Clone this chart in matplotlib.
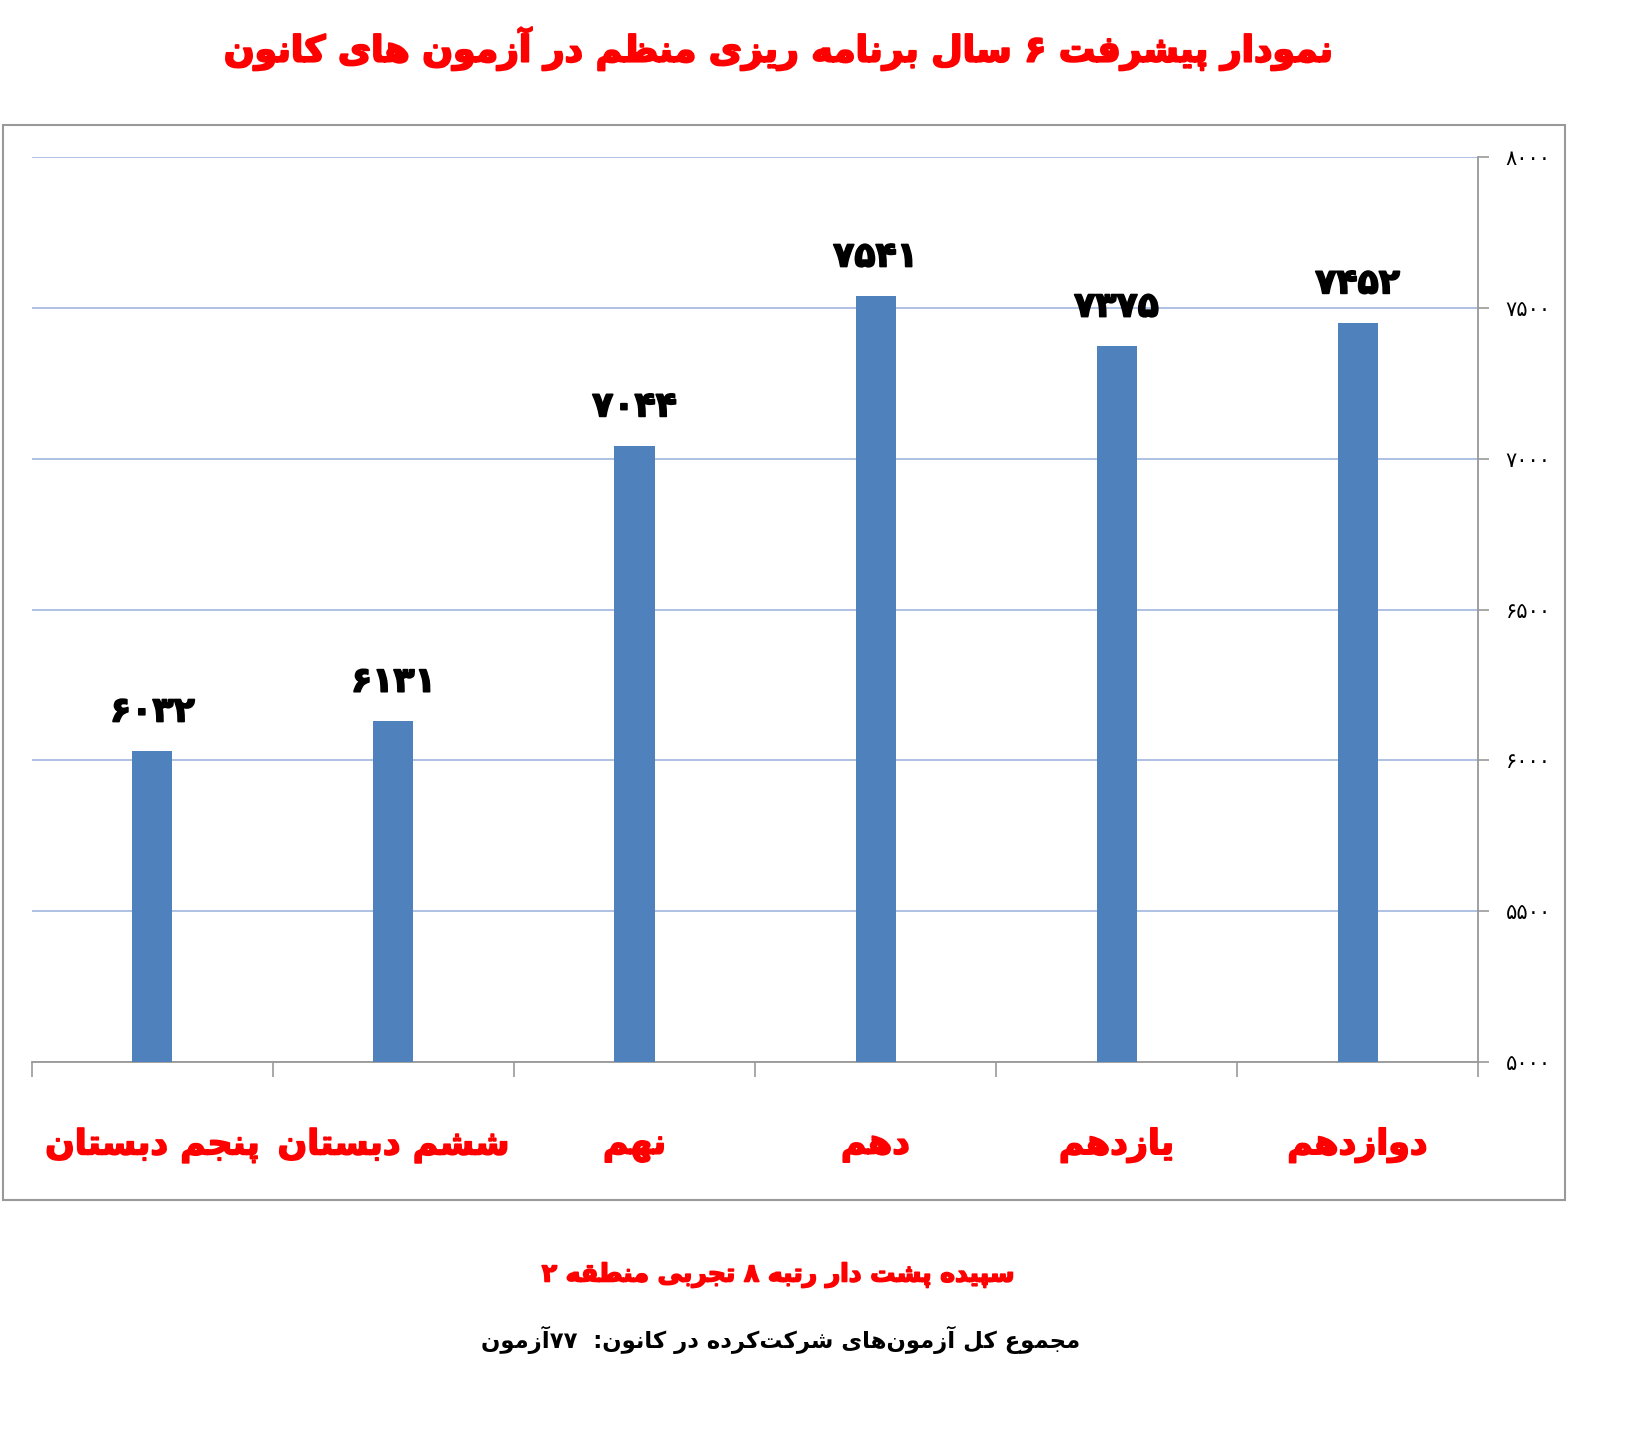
import re

import matplotlib

matplotlib.use("Agg")
import matplotlib.patheffects as pe
import matplotlib.pyplot as plt
from matplotlib.patches import Rectangle
from matplotlib.ticker import FixedLocator, FuncFormatter

# data
grades = ["پنجم دبستان", "ششم دبستان", "نهم", "دهم", "یازدهم", "دوازدهم"]
scores = [6032, 6131, 7044, 7541, 7375, 7452]
y_ticks = [5000, 5500, 6000, 6500, 7000, 7500, 8000]

title = "نمودار پیشرفت ۶ سال برنامه ریزی منظم در آزمون های کانون"
subtitle = "سپیده پشت دار رتبه ۸ تجربی منطقه ۲"
footer = "مجموع کل آزمون\u200cهای شرکت\u200cکرده در کانون:  ۷۷آزمون"

# matplotlib has no arabic shaping, so pick presentation forms by hand
# dual joining: (isolated, final, initial, medial); right joining: (isolated, final)
FORMS = {
    "\u0627": ("\uFE8D", "\uFE8E"),
    "\u0622": ("\uFE81", "\uFE82"),
    "\u062F": ("\uFEA9", "\uFEAA"),
    "\u0631": ("\uFEAD", "\uFEAE"),
    "\u0632": ("\uFEAF", "\uFEB0"),
    "\u0648": ("\uFEED", "\uFEEE"),
    "\u0628": ("\uFE8F", "\uFE90", "\uFE91", "\uFE92"),
    "\u067E": ("\uFB56", "\uFB57", "\uFB58", "\uFB59"),
    "\u062A": ("\uFE95", "\uFE96", "\uFE97", "\uFE98"),
    "\u062C": ("\uFE9D", "\uFE9E", "\uFE9F", "\uFEA0"),
    "\u0686": ("\uFB7A", "\uFB7B", "\uFB7C", "\uFB7D"),
    "\u062D": ("\uFEA1", "\uFEA2", "\uFEA3", "\uFEA4"),
    "\u0633": ("\uFEB1", "\uFEB2", "\uFEB3", "\uFEB4"),
    "\u0634": ("\uFEB5", "\uFEB6", "\uFEB7", "\uFEB8"),
    "\u0637": ("\uFEC1", "\uFEC2", "\uFEC3", "\uFEC4"),
    "\u0638": ("\uFEC5", "\uFEC6", "\uFEC7", "\uFEC8"),
    "\u0639": ("\uFEC9", "\uFECA", "\uFECB", "\uFECC"),
    "\u0641": ("\uFED1", "\uFED2", "\uFED3", "\uFED4"),
    "\u0642": ("\uFED5", "\uFED6", "\uFED7", "\uFED8"),
    "\u06A9": ("\uFB8E", "\uFB8F", "\uFB90", "\uFB91"),
    "\u06AF": ("\uFB92", "\uFB93", "\uFB94", "\uFB95"),
    "\u0644": ("\uFEDD", "\uFEDE", "\uFEDF", "\uFEE0"),
    "\u0645": ("\uFEE1", "\uFEE2", "\uFEE3", "\uFEE4"),
    "\u0646": ("\uFEE5", "\uFEE6", "\uFEE7", "\uFEE8"),
    "\u0647": ("\uFEE9", "\uFEEA", "\uFEEB", "\uFEEC"),
    "\u06CC": ("\uFBFC", "\uFBFD", "\uFBFE", "\uFBFF"),
}
FA_DIGITS = str.maketrans("0123456789", "۰۱۲۳۴۵۶۷۸۹")


def fa(text):
    out = []
    for i, c in enumerate(text):
        if c not in FORMS:
            if c != "\u200c":
                out.append(c)
            continue
        prev = text[i - 1] if i > 0 else ""
        nxt = text[i + 1] if i + 1 < len(text) else ""
        f = FORMS[c]
        join_prev = prev in FORMS and len(FORMS[prev]) == 4
        join_next = len(f) == 4 and nxt in FORMS
        if join_prev and join_next:
            out.append(f[3])
        elif join_prev:
            out.append(f[1])
        elif join_next:
            out.append(f[2])
        else:
            out.append(f[0])
    s = "".join(out)[::-1]
    return re.sub(r"[0-9\u06F0-\u06F9]+", lambda m: m.group(0)[::-1], s)


def heavy(color, lw=1.2):
    return [pe.withStroke(linewidth=lw, foreground=color)]


plt.rcParams["font.family"] = ["DejaVu Sans"]

fig = plt.figure(figsize=(16.39, 14.37), dpi=100)
ax = fig.add_axes([0.0195, 0.261, 0.8823, 0.6295])

x = list(range(len(grades)))
ax.bar(x, scores, width=0.166, color="#4F81BD", zorder=3)

for xi, v in zip(x, scores):
    ax.annotate(str(v).translate(FA_DIGITS), (xi, v), xytext=(0, 16),
                textcoords="offset points", ha="center", va="bottom",
                fontsize=25, fontweight="bold", color="black",
                path_effects=heavy("black"))

for xi, g in zip(x, grades):
    ax.text(xi, -0.092, fa(g), transform=ax.get_xaxis_transform(),
            ha="center", va="center", fontsize=25, fontweight="bold",
            color="#FF0000", path_effects=heavy("#FF0000"))

ax.set_xlim(-0.5, len(grades) - 0.5)
ax.set_ylim(5000, 8000)

ax.yaxis.tick_right()
ax.yaxis.set_major_locator(FixedLocator(y_ticks))
ax.yaxis.set_major_formatter(FuncFormatter(lambda v, p: str(int(v)).translate(FA_DIGITS)))
ax.tick_params(axis="y", direction="out", length=8, width=1.2, color="#999999",
               labelsize=15, pad=12, labelcolor="black")
ax.grid(axis="y", color="#A7BCE0", linewidth=1.3, zorder=0)

ax.xaxis.set_major_locator(FixedLocator([i - 0.5 for i in range(len(grades) + 1)]))
ax.tick_params(axis="x", direction="out", length=11, width=1.2, color="#999999",
               labelbottom=False)

for side in ["top", "left"]:
    ax.spines[side].set_visible(False)
for side in ["right", "bottom"]:
    ax.spines[side].set_color("#999999")
    ax.spines[side].set_linewidth(1.3)

fig.patches.append(Rectangle((0.0018, 0.165), 0.953, 0.748, transform=fig.transFigure,
                             fill=False, edgecolor="#999999", linewidth=1.5))

fig.text(0.475, 0.966, fa(title), ha="center", va="center", fontsize=26,
         fontweight="bold", color="#FF0000", path_effects=heavy("#FF0000", 1.5))
fig.text(0.475, 0.1127, fa(subtitle), ha="center", va="center", fontsize=18,
         fontweight="bold", color="#FF0000", path_effects=heavy("#FF0000"))
fig.text(0.476, 0.0675, fa(footer), ha="center", va="center", fontsize=16.4,
         fontweight="bold", color="black")

fig.savefig("out.png", dpi=100)
